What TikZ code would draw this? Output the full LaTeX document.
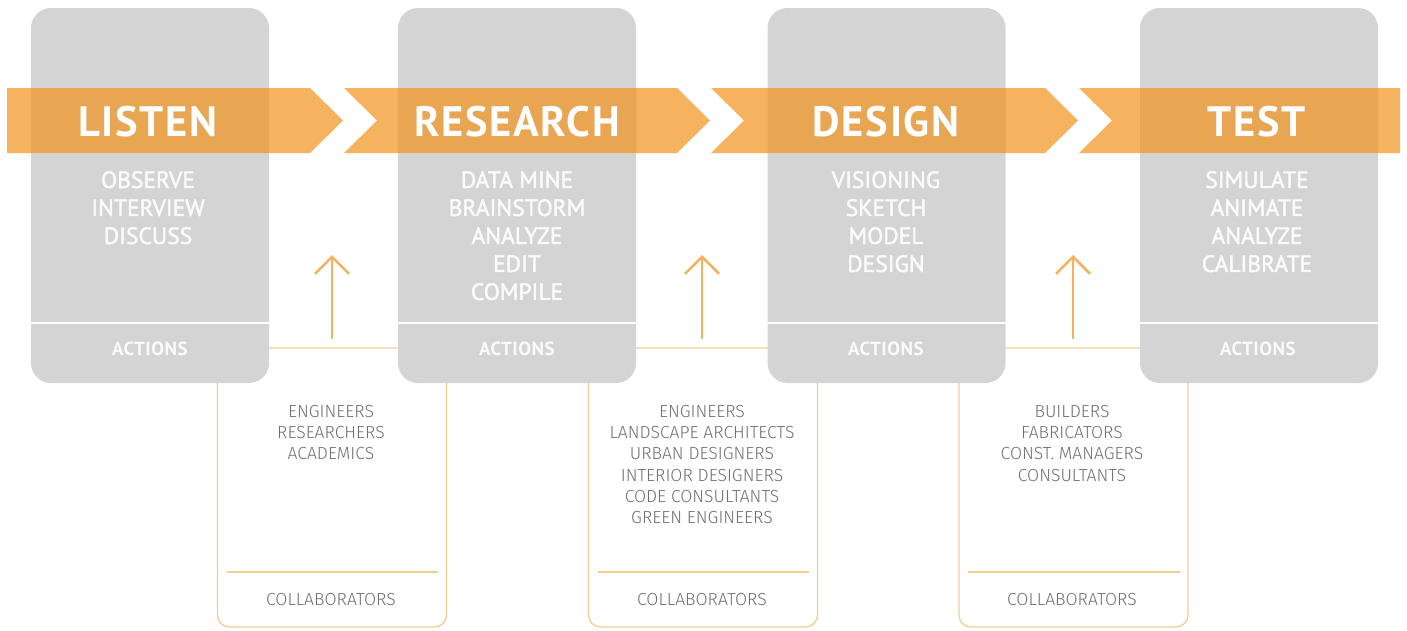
\documentclass[tikz,border=0pt]{standalone}
\usepackage{fontspec}
\setmainfont{PT Sans}
\newfontfamily\lightfont{Fira Sans Light}
\newfontfamily\medfont[FakeBold=2]{PT Sans}
\usetikzlibrary{arrows.meta}
\definecolor{boxgray}{RGB}{212,212,212}
\definecolor{bandorange}{RGB}{241,148,33}
\definecolor{lineorange}{RGB}{245,203,150}
\definecolor{ruleorange}{RGB}{238,207,140}
\definecolor{arroworange}{RGB}{242,178,95}
\definecolor{namegray}{RGB}{112,112,112}
\definecolor{actwhite}{RGB}{250,250,250}
\begin{document}
\begin{tikzpicture}[x=1pt,y=-1pt,
  stage/.style={fill=boxgray, draw=none, rounded corners=20pt, minimum width=238pt, minimum height=375pt, inner sep=0pt},
  collab/.style={draw=lineorange, line width=1.3pt, rounded corners=12pt, minimum width=229pt, minimum height=279pt, inner sep=0pt},
  band/.style={fill=bandorange, fill opacity=0.72, draw=none},
  title/.style={font=\bfseries\fontsize{42.5}{43}\selectfont\addfontfeature{LetterSpace=4}, text=white, inner sep=0pt},
  acts/.style={font=\medfont\fontsize{23.5}{28}\selectfont, text=actwhite, align=center, inner sep=0pt, anchor=north},
  actlabel/.style={font=\bfseries\fontsize{19}{20}\selectfont\addfontfeature{LetterSpace=3}, text=actwhite, inner sep=0pt},
  names/.style={font=\lightfont\fontsize{17.5}{21.3}\selectfont, text=namegray, align=center, inner sep=0pt, anchor=north},
  collabel/.style={font=\lightfont\fontsize{17.5}{20}\selectfont, text=namegray, inner sep=0pt},
  sep/.style={draw=white, line width=1.5pt},
  rule/.style={draw=ruleorange, line width=2pt},
  up/.style={draw=arroworange, line width=1.8pt, -{Straight Barb[length=17pt,width=34pt,line width=2.6pt]}}
]
\useasboundingbox (0,0) rectangle (1407,630);

% collaborator panels (behind the stage boxes)
\node[collab] (c1) at (332,487.5) {};
\node[collab] (c2) at (703,487.5) {};
\node[collab] (c3) at (1073.5,487.5) {};

% stage boxes
\node[stage] (b1) at (150,195.5) {};
\node[stage] (b2) at (517,195.5) {};
\node[stage] (b3) at (886.5,195.5) {};
\node[stage] (b4) at (1259,195.5) {};

\foreach \b in {b1,b2,b3,b4}
  \draw[sep] (\b.west |- 0,323) -- (\b.east |- 0,323);

% translucent chevron band
\fill[band] (7,88) -- (310,88) -- (343,120.5) -- (310,153) -- (7,153) -- cycle;
\fill[band] (344,88) -- (677,88) -- (710,120.5) -- (677,153) -- (344,153) -- (377,120.5) -- cycle;
\fill[band] (711,88) -- (1045,88) -- (1078,120.5) -- (1045,153) -- (711,153) -- (744,120.5) -- cycle;
\fill[band] (1079,88) -- (1400,88) -- (1400,153) -- (1079,153) -- (1112,120.5) -- cycle;

% stage titles
\node[title] (t1) at (148,122) {LISTEN};
\node[title] (t2) at (517,122) {RESEARCH};
\node[title] (t3) at (886,122) {DESIGN};
\node[title] (t4) at (1257,122) {TEST};

% action lists
\node[acts] (l1) at (148,171) {OBSERVE\\INTERVIEW\\DISCUSS};
\node[acts] (l2) at (517,171) {DATA MINE\\BRAINSTORM\\ANALYZE\\EDIT\\COMPILE};
\node[acts] (l3) at (886,171) {VISIONING\\SKETCH\\MODEL\\DESIGN};
\node[acts] (l4) at (1257,171) {SIMULATE\\ANIMATE\\ANALYZE\\CALIBRATE};

\node[actlabel] (a1) at (150,349) {ACTIONS};
\node[actlabel] (a2) at (517,349) {ACTIONS};
\node[actlabel] (a3) at (886,349) {ACTIONS};
\node[actlabel] (a4) at (1258,349) {ACTIONS};

% upward arrows into the next stage
\coordinate (u1s) at (332,339); \coordinate (u1e) at (332,255);
\coordinate (u2s) at (702,339); \coordinate (u2e) at (702,255);
\coordinate (u3s) at (1073,339); \coordinate (u3e) at (1073,255);
\draw[up] (u1s) -- (u1e);
\draw[up] (u2s) -- (u2e);
\draw[up] (u3s) -- (u3e);

% collaborator lists
\node[names] (n1) at (331,405) {ENGINEERS\\RESEARCHERS\\ACADEMICS};
\node[names] (n2) at (702,405) {ENGINEERS\\LANDSCAPE ARCHITECTS\\URBAN DESIGNERS\\INTERIOR DESIGNERS\\CODE CONSULTANTS\\GREEN ENGINEERS};
\node[names] (n3) at (1072,405) {BUILDERS\\FABRICATORS\\CONST. MANAGERS\\CONSULTANTS};

\foreach \c in {c1,c2,c3}
  \draw[rule] ([xshift=10pt]\c.west |- 0,572) -- ([xshift=-9pt]\c.east |- 0,572);

\node[collabel] (k1) at (331,599) {COLLABORATORS};
\node[collabel] (k2) at (702,599) {COLLABORATORS};
\node[collabel] (k3) at (1072,599) {COLLABORATORS};
\end{tikzpicture}
\end{document}
